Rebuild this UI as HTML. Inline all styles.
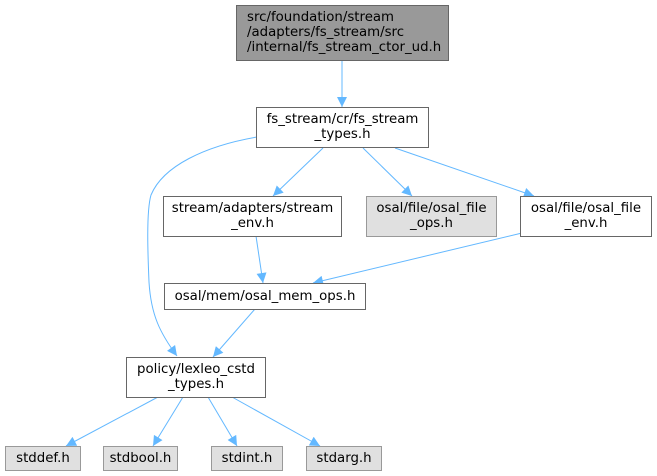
<!DOCTYPE html>
<html><head><meta charset="utf-8"><style>
html,body{margin:0;padding:0;background:#fff;}
svg{display:block;}
text{font-family:"DejaVu Sans","Liberation Sans",sans-serif;font-size:13.33px;fill:#000;}
</style></head><body>
<svg width="657" height="476" viewBox="0 0 657 476" xmlns="http://www.w3.org/2000/svg">
<defs>
<marker id="a" markerUnits="userSpaceOnUse" viewBox="0 0 10 10" markerWidth="11" markerHeight="10" refX="10" refY="5" orient="auto">
<path d="M0,0 L10,5 L0,10 z" fill="#63b8ff"/>
</marker>
</defs>
<g fill="none" stroke="#63b8ff" stroke-width="1" marker-end="url(#a)">
<path d="M342,60 L342,107"/>
<path d="M257,137 C205,146 163,166 151,195 C146,212 148,258 149,282 C151,315 160,333 177,356"/>
<path d="M323,148 L273,196"/>
<path d="M363,148 L412,196"/>
<path d="M395,148 L534,196"/>
<path d="M256,236 L263,283"/>
<path d="M522,233 L313,283"/>
<path d="M255,309 L213,357"/>
<path d="M158,397 L66,446"/>
<path d="M183,397 L153,446"/>
<path d="M208,397 L237,446"/>
<path d="M232,397 L320,446"/>
</g>
<rect x="236.5" y="5.5" width="212" height="55" fill="#999999" stroke="#666666"/>
<text x="247" y="21">src/foundation/stream</text>
<text x="247" y="36">/adapters/fs_stream/src</text>
<text x="247" y="51">/internal/fs_stream_ctor_ud.h</text>

<rect x="256.5" y="107.5" width="172" height="40" fill="#fff" stroke="#666666"/>
<text x="342.5" y="123" text-anchor="middle">fs_stream/cr/fs_stream</text>
<text x="342.5" y="138" text-anchor="middle">_types.h</text>

<rect x="163.5" y="196.5" width="178" height="40" fill="#fff" stroke="#666666"/>
<text x="252.5" y="212" text-anchor="middle">stream/adapters/stream</text>
<text x="252.5" y="227" text-anchor="middle">_env.h</text>

<rect x="366.5" y="196.5" width="130" height="40" fill="#e0e0e0" stroke="#999999"/>
<text x="431.5" y="212" text-anchor="middle">osal/file/osal_file</text>
<text x="431.5" y="227" text-anchor="middle">_ops.h</text>

<rect x="520.5" y="196.5" width="131" height="40" fill="#fff" stroke="#666666"/>
<text x="586" y="212" text-anchor="middle">osal/file/osal_file</text>
<text x="586" y="227" text-anchor="middle">_env.h</text>

<rect x="164.5" y="283.5" width="201" height="26" fill="#fff" stroke="#666666"/>
<text x="265" y="300" text-anchor="middle">osal/mem/osal_mem_ops.h</text>

<rect x="126.5" y="357.5" width="139" height="40" fill="#fff" stroke="#666666"/>
<text x="196" y="373" text-anchor="middle">policy/lexleo_cstd</text>
<text x="196" y="388" text-anchor="middle">_types.h</text>

<rect x="5.5" y="446.5" width="75" height="24" fill="#e0e0e0" stroke="#999999"/>
<text x="43" y="462" text-anchor="middle">stddef.h</text>
<rect x="103.5" y="446.5" width="74" height="24" fill="#e0e0e0" stroke="#999999"/>
<text x="140.5" y="462" text-anchor="middle">stdbool.h</text>
<rect x="211.5" y="446.5" width="71" height="24" fill="#e0e0e0" stroke="#999999"/>
<text x="247" y="462" text-anchor="middle">stdint.h</text>
<rect x="306.5" y="446.5" width="75" height="24" fill="#e0e0e0" stroke="#999999"/>
<text x="344" y="462" text-anchor="middle">stdarg.h</text>
</svg>
</body></html>
